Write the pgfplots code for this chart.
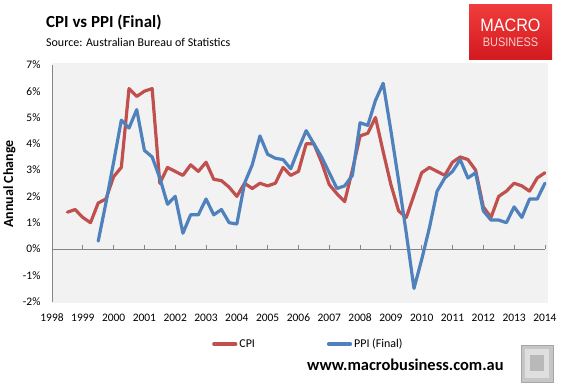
\documentclass[border=0pt]{standalone}
\usepackage{pgfplots}
\pgfplotsset{compat=1.18}
\usepackage{pgfplotstable}
\usepackage{fontspec}
\setmainfont{Carlito}
\newfontfamily\logofont{Liberation Sans}
\definecolor{cpired}{RGB}{192,80,77}
\definecolor{ppiblue}{RGB}{79,129,189}
\definecolor{plotbg}{RGB}{242,242,242}
\definecolor{axgray}{RGB}{134,134,134}
\definecolor{logotop}{RGB}{240,60,60}
\definecolor{logobot}{RGB}{210,25,30}
\definecolor{logopink}{RGB}{250,205,205}

\pgfplotstableread{
x y
1998.50 1.4
1998.75 1.5
1999.00 1.2
1999.25 1.0
1999.50 1.75
1999.75 1.9
2000.00 2.75
2000.25 3.1
2000.50 6.1
2000.75 5.8
2001.00 6.0
2001.25 6.1
2001.50 2.5
2001.75 3.1
2002.00 2.95
2002.25 2.8
2002.50 3.2
2002.75 2.95
2003.00 3.3
2003.25 2.65
2003.50 2.6
2003.75 2.35
2004.00 2.0
2004.25 2.5
2004.50 2.3
2004.75 2.5
2005.00 2.4
2005.25 2.5
2005.50 3.1
2005.75 2.8
2006.00 2.95
2006.25 4.0
2006.50 4.0
2006.75 3.3
2007.00 2.45
2007.25 2.1
2007.50 1.8
2007.75 3.0
2008.00 4.3
2008.25 4.4
2008.50 5.0
2008.75 3.7
2009.00 2.45
2009.25 1.45
2009.50 1.2
2009.75 2.05
2010.00 2.9
2010.25 3.1
2010.50 2.95
2010.75 2.8
2011.00 3.3
2011.25 3.5
2011.50 3.4
2011.75 3.0
2012.00 1.6
2012.25 1.2
2012.50 2.0
2012.75 2.2
2013.00 2.5
2013.25 2.4
2013.50 2.2
2013.75 2.7
2014.00 2.9
}\cpidata

\pgfplotstableread{
x y
1999.50 0.3
1999.75 1.75
2000.00 3.3
2000.25 4.9
2000.50 4.6
2000.75 5.3
2001.00 3.75
2001.25 3.5
2001.50 2.7
2001.75 1.7
2002.00 2.0
2002.25 0.6
2002.50 1.3
2002.75 1.3
2003.00 1.9
2003.25 1.3
2003.50 1.5
2003.75 1.0
2004.00 0.95
2004.25 2.5
2004.50 3.2
2004.75 4.3
2005.00 3.6
2005.25 3.45
2005.50 3.4
2005.75 3.05
2006.00 3.8
2006.25 4.5
2006.50 4.0
2006.75 3.5
2007.00 2.9
2007.25 2.3
2007.50 2.4
2007.75 2.8
2008.00 4.8
2008.25 4.7
2008.50 5.65
2008.75 6.3
2009.00 4.5
2009.25 2.6
2009.50 0.6
2009.75 -1.5
2010.00 -0.4
2010.25 0.8
2010.50 2.2
2010.75 2.7
2011.00 2.95
2011.25 3.4
2011.50 2.7
2011.75 2.9
2012.00 1.45
2012.25 1.1
2012.50 1.1
2012.75 1.0
2013.00 1.6
2013.25 1.2
2013.50 1.9
2013.75 1.9
2014.00 2.5
}\ppidata

\begin{document}
\begin{tikzpicture}
\useasboundingbox (0bp,0bp) rectangle (562bp,383bp);
% titles
\node[anchor=base west, inner sep=0pt] at (46bp,355.7bp) {\fontsize{17}{20}\selectfont\bfseries CPI vs PPI (Final)};
\node[anchor=base west, inner sep=0pt] at (46bp,336.1bp) {\fontsize{12}{14}\selectfont Source: Australian Bureau of Statistics};
% logo
\shade[top color=logotop, bottom color=logobot] (469bp,323bp) rectangle (552bp,378bp);
\node[text=white, inner sep=0pt] at (510.5bp,358bp) {\logofont\fontsize{18}{20}\selectfont\scalebox{0.9}[1]{MACRO}};
\node[text=logopink, inner sep=0pt] at (510.5bp,341bp) {\logofont\fontsize{12.5}{14}\selectfont\scalebox{0.88}[1]{BUSINESS}};
% y label
\node[rotate=90, inner sep=0pt] at (9.5bp,199bp) {\fontsize{14}{16}\selectfont\bfseries Annual Change};
% website
\node[anchor=base west, inner sep=0pt] at (307bp,13bp) {\fontsize{16.5}{18}\selectfont\bfseries www.macrobusiness.com.au};
% wolf picture placeholder
\fill[gray!45, draw=gray!70, line width=0.8bp] (521bp,1bp) rectangle (553bp,38bp);
\fill[gray!25] (525bp,5bp) rectangle (549bp,34bp);
\fill[gray!55] (530bp,12bp) rectangle (544bp,28bp);

\begin{axis}[
  at={(52bp,80.1bp)}, anchor=south west,
  scale only axis, width=496bp, height=240.1bp,
  xmin=1998, xmax=2014.1, ymin=-2.05, ymax=7.08,
  axis background/.style={fill=plotbg},
  axis line style={draw=none},
  major tick length=0pt,
  xtick={1998,1999,2000,2001,2002,2003,2004,2005,2006,2007,2008,2009,2010,2011,2012,2013,2014},
  xticklabels={1998,1999,2000,2001,2002,2003,2004,2005,2006,2007,2008,2009,2010,2011,2012,2013,2014},
  ytick={-2,-1,0,1,2,3,4,5,6,7},
  yticklabels={-2\%,-1\%,0\%,1\%,2\%,3\%,4\%,5\%,6\%,7\%},
  tick label style={font=\fontsize{11.5}{13}\selectfont, text=black},
  xticklabel style={anchor=base, yshift=-19bp},
  yticklabel style={anchor=east, xshift=-8bp},
  legend style={draw=none, fill=none, at={(axis description cs:0.3226,-0.171)}, anchor=west,
    inner sep=0pt, legend columns=2, font=\fontsize{12}{14}\selectfont,
    /tikz/every even column/.append style={column sep=70bp}},
  legend image code/.code={\draw[#1, line width=3.2bp] (0bp,0bp) -- (22bp,0bp);},
]
\draw[axgray, line width=0.8bp] (axis cs:1998,-2) -- (axis cs:1998,7);
\draw[axgray, line width=0.8bp] (axis cs:1998,0) -- (axis cs:2014,0);
\pgfplotsinvokeforeach{1999,...,2014}{\draw[axgray, line width=0.8bp] (axis cs:#1,0) -- ++(0bp,4bp);}
\addplot[cpired, line width=3.2bp, line join=round, line cap=round] table[x=x,y=y] {\cpidata};
\addlegendentry{CPI}
\addplot[ppiblue, line width=3.2bp, line join=round, line cap=round] table[x=x,y=y] {\ppidata};
\addlegendentry{PPI (Final)}
\end{axis}
\end{tikzpicture}
\end{document}
